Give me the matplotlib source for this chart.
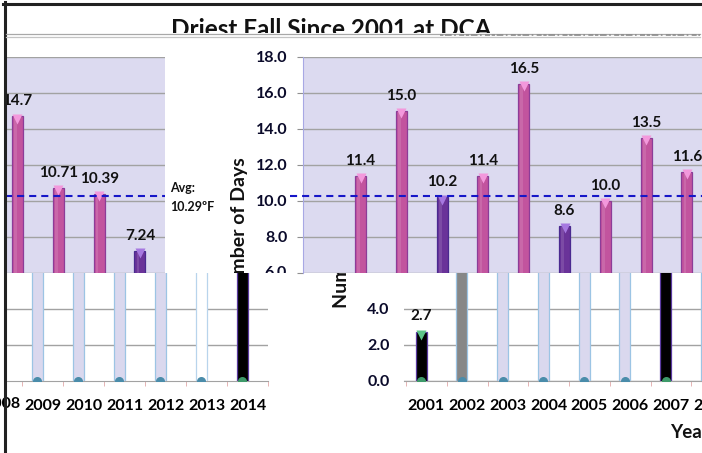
import matplotlib
matplotlib.use("Agg")
import matplotlib.pyplot as plt
from matplotlib.transforms import Bbox
from matplotlib.lines import Line2D

W, H = 702, 453
plt.rcParams['font.family'] = ['Lato', 'DejaVu Sans']
plt.rcParams['font.weight'] = 'bold'

# ---------------- data ----------------
title = "Driest Fall Since 2001 at DCA"
ylabel = "Number of Days"
xlabel = "Year"
avg_value = 10.29

upper_left_values = [14.7, 10.71, 10.39, 7.24]
upper_left_labels = ["14.7", "10.71", "10.39", "7.24"]
upper_left_kinds = ["pink", "pink", "pink", "purple"]

upper_right_values = [11.4, 15.0, 10.2, 11.4, 16.5, 8.6, 10.0, 13.5, 11.6]
upper_right_labels = ["11.4", "15.0", "10.2", "11.4", "16.5", "8.6", "10.0", "13.5", "11.6"]
upper_right_kinds = ["pink", "pink", "purple", "pink", "pink", "purple", "pink", "pink", "pink"]
upper_yticks = [6, 8, 10, 12, 14, 16, 18]

lower_left_years = [2009, 2010, 2011, 2012, 2013, 2014]
lower_left_values = [14.7, 10.71, 10.39, 7.24, 9.0, 12.0]
lower_left_kinds = ["ghost", "ghost", "ghost", "ghost", "white", "black"]
lower_left_ticklabels = ["2008", "2009", "2010", "2011", "2012", "2013", "2014"]

lower_right_years = [2001, 2002, 2003, 2004, 2005, 2006, 2007, 2008]
lower_right_values = [2.7, 15.0, 10.2, 11.4, 16.5, 8.6, 10.0, 13.5]
lower_right_kinds = ["black", "gray", "ghost", "ghost", "ghost", "ghost", "black", "ghost"]
lower_right_labels = ["2.7", "", "", "", "", "", "", ""]
lower_yticks = [0, 2, 4]

palette = {
    "pink":   dict(main="#C2549E", edge="#8C3C98", cap="#F398DC"),
    "purple": dict(main="#6A3399", edge="#4A2A90", cap="#A678E0"),
    "ghost":  dict(main="#DAD8EE", edge="#9CC4E4", cap="#4A8CAA"),
    "white":  dict(main="#FFFFFF", edge="#B8D4EC", cap="#4A8CAA"),
    "gray":   dict(main="#878787", edge="#9CC4E4", cap="#4A8CAA"),
    "black":  dict(main="#000000", edge="#5A3AA0", cap="#3E9A6A"),
}

LAV = "#DCDAF0"
GRID = "#A2A2A2"
AVGC = "#1616C8"

fig = plt.figure(figsize=(W / 100, H / 100), dpi=100)
fig.patch.set_facecolor("white")


def px_axes(x0, y0, x1, y1):
    return fig.add_axes([x0 / W, 1 - y1 / H, (x1 - x0) / W, (y1 - y0) / H])


def fx(x):
    return x / W


def fy(y):
    return 1 - y / H


upper_clip = Bbox.from_extents(0, H - 273, W, H)
lower_clip = Bbox.from_extents(0, 0, W, H - 273)

BW = 0.27


def draw_cyl(ax, xs, vals, kinds, base_cap=False, top_cap=True):
    for x, v, k in zip(xs, vals, kinds):
        p = palette[k]
        ax.bar(x, v, BW, color=p["main"], edgecolor=p["edge"], linewidth=0.9, zorder=3)
        if k in ("pink", "purple"):
            ax.bar(x - BW * 0.18, v, BW * 0.25, color="white", alpha=0.12, linewidth=0, zorder=3.1)
        if top_cap:
            ax.plot(x, v - 0.12, marker="v", ms=7, color=p["cap"], mec="none", zorder=3.2)
        if base_cap:
            ax.plot(x, 0, marker="o", ms=6.5, color=p["cap"], mec="none", zorder=3.2)


# ---------------- upper left panel ----------------
ul = px_axes(5, 57, 165, 273)
ul.set_facecolor(LAV)
ul.set_xlim(-0.306, 3.615)
ul.set_ylim(6, 18)
ul.set_yticks(upper_yticks)
ul.yaxis.grid(True, color=GRID, lw=1)
ul.set_axisbelow(True)
ul.tick_params(left=False, bottom=False, labelleft=False, labelbottom=False)
for s in ul.spines.values():
    s.set_visible(False)
ulx = list(range(len(upper_left_values)))
draw_cyl(ul, ulx, upper_left_values, upper_left_kinds)
for x, v, t in zip(ulx, upper_left_values, upper_left_labels):
    ul.text(x, v + 0.45, t, ha="center", va="bottom", fontsize=11, color="#111111")
ul.axhline(avg_value, color=AVGC, lw=1.5, ls=(0, (3.4, 2.4)), zorder=4)

# ---------------- upper right panel ----------------
ur = px_axes(303, 57, 702, 273)
ur.set_facecolor(LAV)
ur.set_xlim(-1.41, 8.37)
ur.set_ylim(6, 18)
ur.set_yticks(upper_yticks)
ur.set_yticklabels([""] + [f"{t:.1f}" for t in upper_yticks[1:]])
ur.yaxis.grid(True, color=GRID, lw=1)
ur.set_axisbelow(True)
ur.tick_params(axis="y", length=4.3, color="#909090", pad=7, labelsize=11.5, labelcolor="#0A0A2A")
ur.tick_params(axis="x", bottom=False, labelbottom=False)
for name, s in ur.spines.items():
    s.set_visible(name == "left")
ur.spines["left"].set_color("#A8A8E4")
urx = list(range(len(upper_right_values)))
draw_cyl(ur, urx, upper_right_values, upper_right_kinds)
for x, v, t in zip(urx, upper_right_values, upper_right_labels):
    ur.text(x, v + 0.45, t, ha="center", va="bottom", fontsize=11, color="#111111")
ur.plot([-1.73, 8.5], [avg_value, avg_value], color=AVGC, lw=1.5, ls=(0, (3.4, 2.4)),
        zorder=4, clip_on=False)
six = fig.text(fx(287), fy(273), f"{upper_yticks[0]:.1f}", ha="right", va="center",
               fontsize=11.5, color="#0A0A2A")
six.set_clip_box(upper_clip)
six.set_clip_on(True)

# ---------------- lower left panel ----------------
ll = px_axes(5, 273, 268, 381)
ll.set_facecolor("white")
ll.set_xlim(2008.08, 2014.5)
ll.set_ylim(0, 6)
ll.set_yticks([2, 4])
ll.yaxis.grid(True, color=GRID, lw=1)
ll.set_axisbelow(True)
ll.set_xticks(lower_left_years)
ll.set_xticklabels(lower_left_ticklabels[1:])
ll.set_xticks([y + 0.5 for y in range(2008, 2015)], minor=True)
ll.tick_params(axis="x", which="major", length=0, pad=13, labelsize=11.5)
ll.tick_params(axis="x", which="minor", length=3.6, color="#E0A8A8")
ll.tick_params(axis="y", left=False, labelleft=False)
for name, s in ll.spines.items():
    s.set_visible(name == "bottom")
ll.spines["bottom"].set_color(GRID)
llx = [y - 0.13 for y in lower_left_years]
draw_cyl(ll, llx, lower_left_values, lower_left_kinds, base_cap=True, top_cap=False)
ll.text(2008, -0.9, lower_left_ticklabels[0], ha="center", va="top", fontsize=11.5,
        transform=ll.transData, clip_on=False)

# ---------------- lower right panel ----------------
lr = px_axes(404, 273, 732, 381)
lr.set_facecolor("white")
lr.set_xlim(2000.45, 2008.49)
lr.set_ylim(0, 6)
lr.set_yticks(lower_yticks)
lr.set_yticklabels([f"{t:.1f}" for t in lower_yticks])
lr.yaxis.grid(True, color=GRID, lw=1)
lr.set_axisbelow(True)
lr.set_xticks(lower_right_years)
lr.set_xticklabels([str(y) for y in lower_right_years])
lr.set_xticks([y + 0.5 for y in range(2000, 2009)], minor=True)
lr.tick_params(axis="x", which="major", length=0, pad=13, labelsize=11.5)
lr.tick_params(axis="x", which="minor", length=3.6, color="#E0A8A8")
lr.tick_params(axis="y", length=0, pad=10.5, labelsize=11.5, labelcolor="#0A0A2A")
for name, s in lr.spines.items():
    s.set_visible(name == "bottom")
lr.spines["bottom"].set_color(GRID)
lrx = [y - 0.13 for y in lower_right_years]
draw_cyl(lr, lrx, lower_right_values, lower_right_kinds, base_cap=True, top_cap=False)
for x, v, t in zip(lrx, lower_right_values, lower_right_labels):
    if t:
        lr.plot(x, v - 0.15, marker="v", ms=7, color="#5CC488", mec="none", zorder=3.3)
        lr.text(x, v + 0.55, t, ha="center", va="bottom", fontsize=11, color="#111111")

# ---------------- texts ----------------
t1 = fig.text(fx(331), fy(37), title, ha="center", va="baseline", fontsize=17.5, color="#111111")
t1.set_clip_box(Bbox.from_extents(0, H - 33, W, H))
t1.set_clip_on(True)

yl1 = fig.text(fx(240), fy(157), ylabel, rotation=90, ha="center", va="top", fontsize=14,
               color="#111111")
yl1.set_clip_box(upper_clip)
yl1.set_clip_on(True)
yl2 = fig.text(fx(341), fy(308), ylabel, rotation=90, ha="center", va="bottom", fontsize=14,
               color="#111111")
yl2.set_clip_box(lower_clip)
yl2.set_clip_on(True)

fig.text(fx(670), fy(432), xlabel, ha="left", va="center", fontsize=13.5, color="#111111")
fig.text(fx(170), fy(188), "Avg:", ha="left", va="center", fontsize=9, color="#111111")
fig.text(fx(170), fy(207), f"{avg_value:.2f}\u00baF", ha="left", va="center", fontsize=9,
         color="#111111")

# frame lines
fig.add_artist(Line2D([fx(5), fx(5)], [fy(2), fy(453)], color="#222222", lw=2.2))
fig.add_artist(Line2D([fx(3), fx(702)], [fy(3.5), fy(3.5)], color="#222222", lw=2.2))
fig.add_artist(Line2D([fx(6), fx(700)], [fy(33.5), fy(33.5)], color="#A8A8A8", lw=0.9))
fig.add_artist(Line2D([fx(6), fx(700)], [fy(36.5), fy(36.5)], color="#C4C4C4", lw=0.9))
fig.add_artist(Line2D([fx(440), fx(700)], [fy(35), fy(35)], color="#8C8C8C", lw=1.2,
                      ls=(0, (2, 1, 4, 1.5, 1, 2, 3, 1))))

fig.savefig("out.png", dpi=100, facecolor="white")
